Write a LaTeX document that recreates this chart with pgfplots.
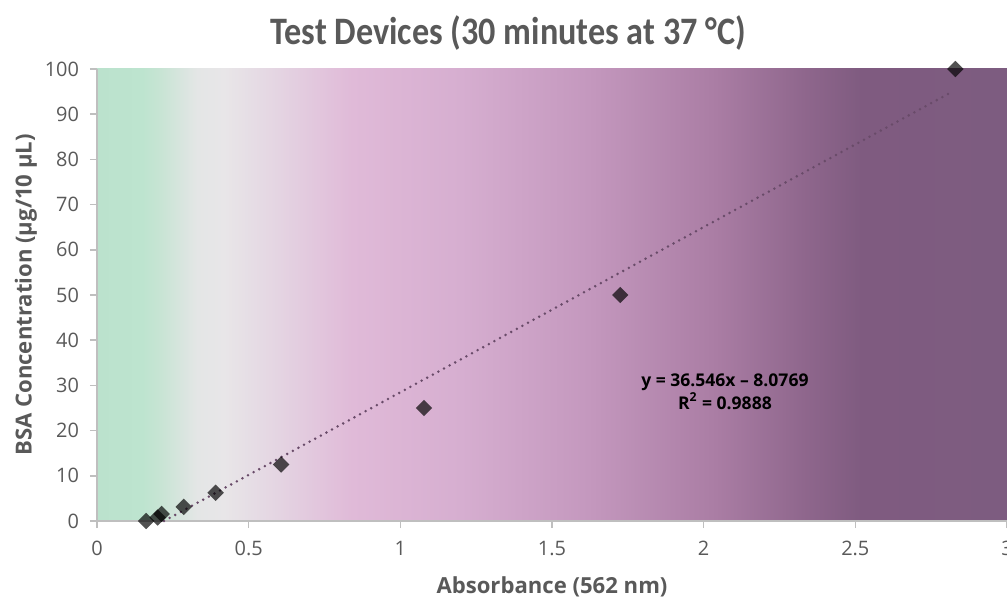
\documentclass[border=0pt]{standalone}
\usepackage{pgfplots}
\pgfplotsset{compat=1.18}
\usepackage{fontspec}
\setmainfont{Open Sans}
\newfontfamily\titlefont{Carlito}
\usetikzlibrary{calc}
\definecolor{txtgray}{RGB}{89,89,89}
\definecolor{axgray}{RGB}{191,191,191}
\definecolor{trend}{RGB}{105,75,105}
\pgfdeclarehorizontalshading{bgshade}{100bp}{%
color(0bp)=(rgb,255:red,187;green,226;blue,205);
color(25bp)=(rgb,255:red,187;green,226;blue,205);
color(27.5bp)=(rgb,255:red,189;green,228;blue,207);
color(28.5bp)=(rgb,255:red,200;green,228;blue,212);
color(30.5bp)=(rgb,255:red,228;green,230;blue,230);
color(32bp)=(rgb,255:red,232;green,230;blue,232);
color(35bp)=(rgb,255:red,228;green,212;blue,226);
color(39bp)=(rgb,255:red,224;green,186;blue,216);
color(45bp)=(rgb,255:red,214;green,174;blue,208);
color(52bp)=(rgb,255:red,196;green,152;blue,190);
color(59bp)=(rgb,255:red,170;green,125;blue,164);
color(64bp)=(rgb,255:red,142;green,102;blue,140);
color(67bp)=(rgb,255:red,127;green,91;blue,128);
color(75bp)=(rgb,255:red,125;green,92;blue,128);
color(100bp)=(rgb,255:red,125;green,92;blue,128)}
\begin{document}
\begin{tikzpicture}
\begin{axis}[
  scale only axis,
  width=455bp, height=226bp,
  xmin=0, xmax=3, ymin=0, ymax=100,
  xtick={0,0.5,...,3}, ytick={0,10,...,100},
  axis x line=bottom, axis y line=left,
  axis line style={axgray, line width=0.8pt, -},
  tick style={axgray, line width=0.8pt},
  tick align=outside, major tick length=3.5bp,
  every tick label/.append style={font=\fontsize{10}{12}\selectfont, text=txtgray},
  xticklabel style={yshift=-3bp},
  yticklabel style={xshift=-2bp},
  /pgf/number format/assume math mode=true,
  axis background/.style={shading=bgshade},
  clip=false,
]
\addplot[trend, line width=1.4pt, line cap=round, dash pattern=on 0pt off 3.2pt]
  coordinates {(0.221,0) (2.82,95.0)};
\addplot[only marks, mark=square*, mark size=2.9bp,
  mark options={rotate=45, draw opacity=0, line width=0pt, fill=black, fill opacity=0.68}]
  coordinates {
  (0.162,0) (0.200,0.78) (0.213,1.5625) (0.286,3.125) (0.391,6.25)
  (0.607,12.5) (1.078,25) (1.725,50) (2.830,100)};
\node[font=\bfseries\fontsize{8.8}{11.2}\selectfont, align=center, text=black]
  at (axis cs:2.07,28.6) {y = 36.546x -- 8.0769\\R\textsuperscript{2} = 0.9888};
\node[font=\bfseries\fontsize{11.1}{14}\selectfont, text=txtgray]
  at ($(rel axis cs:0.5,0)+(0,-33bp)$) {Absorbance (562 nm)};
\node[font=\bfseries\fontsize{11.1}{14}\selectfont, text=txtgray, rotate=90]
  at ($(rel axis cs:0,0.5)+(-35.5bp,0)$) {BSA Concentration (µg/10 µL)};
\node[text=txtgray]
  at ($(rel axis cs:0.452,1)+(0,18bp)$) {\scalebox{0.88}[1]{\titlefont\bfseries\fontsize{19.5}{22}\selectfont Test Devices (30 minutes at 37 °C)}};
\end{axis}
\pgfresetboundingbox
\path ($(current axis.south west)+(-48.5bp,-40bp)$) rectangle ($(current axis.north east)+(0bp,34.5bp)$);
\end{tikzpicture}
\end{document}
